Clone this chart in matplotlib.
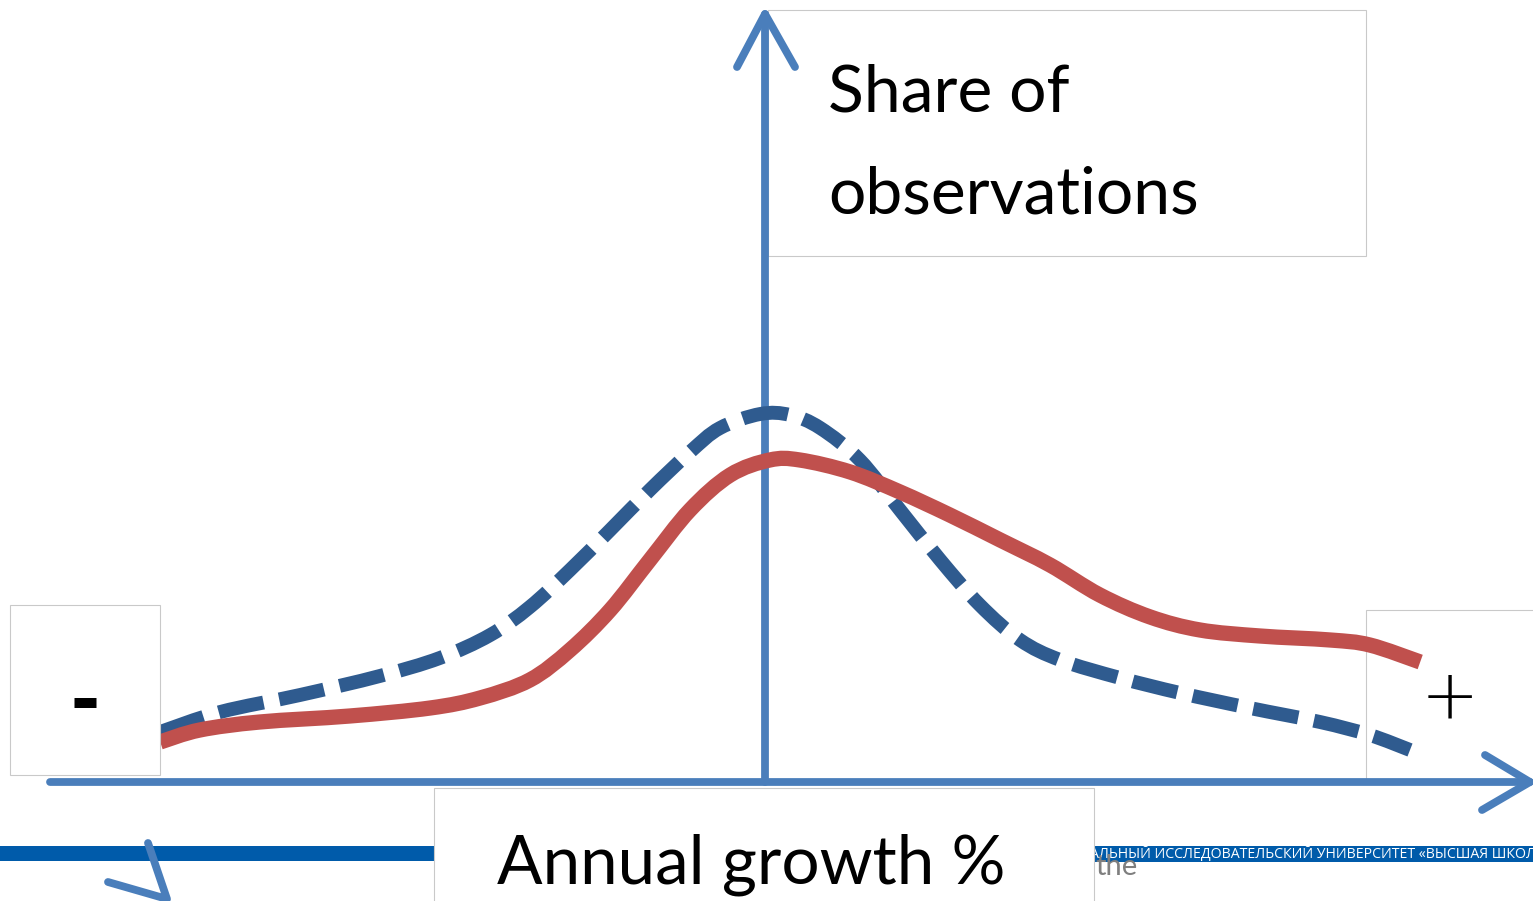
import matplotlib
matplotlib.use("Agg")
import matplotlib.pyplot as plt
from matplotlib.patches import Rectangle, PathPatch
from matplotlib.path import Path
from matplotlib.transforms import Affine2D

# Distribution of annual growth rates: two hypothetical samples
growth_a = [-10.08, -9.42, -8.42, -6.92, -5.58, -4.75, -3.92, -3.25, -2.58, -1.92,
            -1.25, -0.58, 0.08, 0.58, 1.42, 2.25, 3.08, 3.92, 4.75, 5.58,
            6.42, 7.25, 8.25, 9.42, 10.08, 10.92]
share_a = [0.40, 0.52, 0.60, 0.66, 0.74, 0.84, 1.02, 1.32, 1.72, 2.22,
           2.72, 3.07, 3.22, 3.22, 3.10, 2.90, 2.67, 2.42, 2.17, 1.87,
           1.65, 1.52, 1.46, 1.42, 1.37, 1.20]

growth_b = [-10.08, -9.08, -7.75, -6.42, -5.42, -4.58, -3.92, -3.25, -2.58, -1.92,
            -1.25, -0.75, -0.08, 0.42, 0.92, 1.58, 2.25, 2.92, 3.58, 4.25,
            4.92, 5.92, 6.92, 8.08, 9.25, 10.08, 10.75]
share_b = [0.50, 0.70, 0.87, 1.06, 1.24, 1.47, 1.75, 2.12, 2.52, 2.92,
           3.30, 3.54, 3.68, 3.67, 3.54, 3.22, 2.72, 2.22, 1.77, 1.42,
           1.22, 1.04, 0.89, 0.74, 0.60, 0.47, 0.32]

y_label = ["Share of", "observations"]
x_label = "Annual growth %"
neg_label = "-"
pos_label = "+"
footer = "АЛЬНЫЙ ИССЛЕДОВАТЕЛЬСКИЙ УНИВЕРСИТЕТ «ВЫСШАЯ ШКОЛА ЭКОНОМИКИ»"

W, H = 1533, 901
AXIS_BLUE = "#4A7EBB"
RED = "#C0504D"
DARK_BLUE = "#2F5B8F"
BOX_EDGE = "#C9C9C9"


def smooth_path(xs, ys):
    """Cubic Bezier path passing through every point (Catmull-Rom tangents)."""
    pts = list(zip(xs, ys))
    verts = [pts[0]]
    codes = [Path.MOVETO]
    n = len(pts)
    for i in range(n - 1):
        p0 = pts[i - 1] if i > 0 else pts[i]
        p1 = pts[i]
        p2 = pts[i + 1]
        p3 = pts[i + 2] if i + 2 < n else pts[i + 1]
        c1 = (p1[0] + (p2[0] - p0[0]) / 6, p1[1] + (p2[1] - p0[1]) / 6)
        c2 = (p2[0] - (p3[0] - p1[0]) / 6, p2[1] - (p3[1] - p1[1]) / 6)
        verts += [c1, c2, p2]
        codes += [Path.CURVE4] * 3
    return Path(verts, codes)


fig = plt.figure(figsize=(W / 100, H / 100), dpi=100)
ax = fig.add_axes([0, 0, 1, 1])
ax.set_xlim(0, W)
ax.set_ylim(H, 0)
ax.axis("off")

# growth/share units -> canvas (origin where the two arrows cross)
curve_tr = Affine2D().scale(60, -100).translate(765, 782) + ax.transData

# footer band
ax.add_patch(Rectangle((0, 846), 440, 15, facecolor="#005BAA", edgecolor="none", zorder=1))
ax.add_patch(Rectangle((1094, 846), W - 1094, 16, facecolor="#005BAA", edgecolor="none", zorder=1))
ax.text(1090, 854, footer, color="white", fontsize=10.2, family="Open Sans",
        va="center", ha="left", zorder=2, clip_on=True)
ax.text(1095, 875, "the", color="#7F7F7F", fontsize=21, family="Lato",
        va="baseline", ha="left", zorder=2)

# text boxes
ax.add_patch(Rectangle((768, 10), 598, 246, facecolor="white", edgecolor=BOX_EDGE, lw=0.8, zorder=3))
ax.add_patch(Rectangle((1366, 610), 200, 170, facecolor="white", edgecolor=BOX_EDGE, lw=0.8, zorder=3))
ax.add_patch(Rectangle((434, 788), 660, 130, facecolor="white", edgecolor=BOX_EDGE, lw=0.8, zorder=3))

ax.text(828, 112, y_label[0], fontsize=47.5, family="Lato", va="baseline", ha="left", zorder=4)
ax.text(828, 213, y_label[1], fontsize=47.5, family="Lato", va="baseline", ha="left", zorder=4)
ax.text(497, 883, x_label, fontsize=48.5, family="Lato", va="baseline", ha="left", zorder=4)
ax.text(1450, 691, pos_label, fontsize=50, family="DejaVu Sans", fontweight="light",
        va="center_baseline", ha="center", zorder=4)

# arrows of the two axes
arrow_kw = dict(color=AXIS_BLUE, lw=5.6, solid_capstyle="round", solid_joinstyle="round", zorder=5)
ax.plot([50, 1530], [782, 782], **arrow_kw)
ax.plot([1485, 1530, 1482], [755, 782, 810], **arrow_kw)
ax.plot([765, 765], [782, 14], **arrow_kw)
ax.plot([737, 765, 795], [67, 14, 67], **arrow_kw)
ax.plot([148, 167, 108], [843, 899, 882], **arrow_kw)

# distribution curves
ax.add_patch(PathPatch(smooth_path(growth_b, share_b), transform=curve_tr, fill=False,
                       edgecolor=DARK_BLUE, lw=10, linestyle=(0, (3.3, 1.15)),
                       capstyle="butt", zorder=6))
ax.add_patch(PathPatch(smooth_path(growth_a, share_a), transform=curve_tr, fill=False,
                       edgecolor=RED, lw=11, capstyle="butt", joinstyle="round", zorder=7))

# left box sits over the start of the curves
ax.add_patch(Rectangle((10, 605), 150, 170, facecolor="white", edgecolor=BOX_EDGE, lw=0.8, zorder=8))
ax.text(85, 697, neg_label, fontsize=60, family="Lato", fontweight="black",
        va="center_baseline", ha="center", zorder=9)

fig.savefig("out.png", dpi=100, facecolor="white")
